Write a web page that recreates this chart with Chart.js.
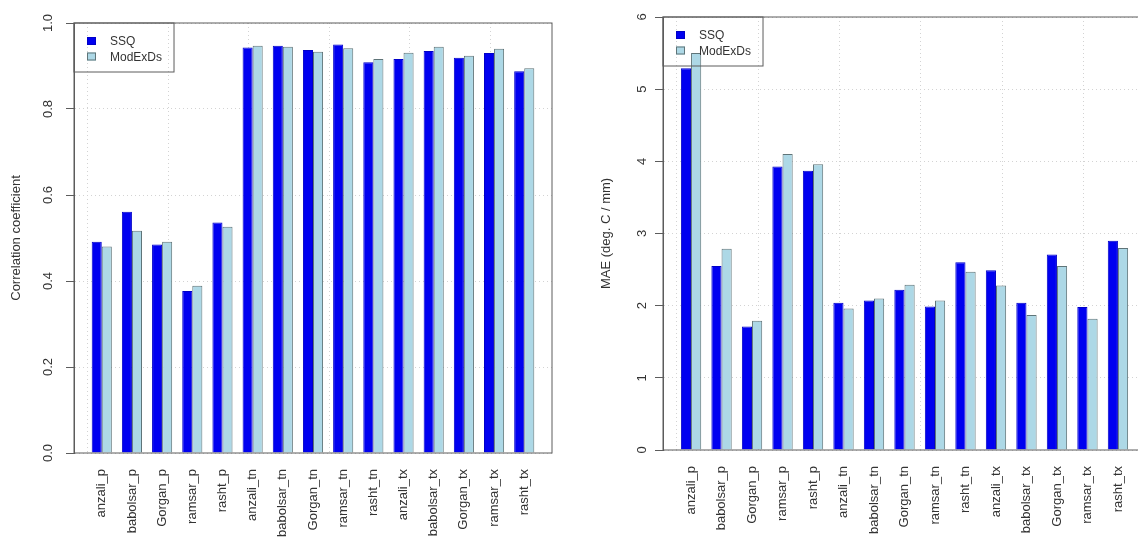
<!DOCTYPE html>
<html>
<head>
<meta charset="utf-8">
<script src="https://cdn.jsdelivr.net/npm/chart.js@4/dist/chart.umd.min.js"></script>
<style>
  html, body { margin: 0; padding: 0; background: #fff; width: 1138px; height: 540px; overflow: hidden; position: relative; }
  canvas { position: absolute; top: 0; }
</style>
</head>
<body>
<canvas id="corrChart" width="570" height="540" style="left:0"></canvas>
<canvas id="maeChart" width="566" height="540" style="left:590px"></canvas>
<script>
const stations = ["anzali_p", "babolsar_p", "Gorgan_p", "ramsar_p", "rasht_p",
  "anzali_tn", "babolsar_tn", "Gorgan_tn", "ramsar_tn", "rasht_tn",
  "anzali_tx", "babolsar_tx", "Gorgan_tx", "ramsar_tx", "rasht_tx"];
const seriesNames = ["SSQ", "ModExDs"];

const corrSSQ = [0.491, 0.561, 0.485, 0.377, 0.536, 0.943, 0.947, 0.937, 0.950, 0.909, 0.916, 0.935, 0.919, 0.930, 0.888];
const corrModExDs = [0.480, 0.517, 0.491, 0.389, 0.526, 0.947, 0.945, 0.933, 0.941, 0.916, 0.931, 0.945, 0.924, 0.940, 0.895];

const maeSSQ = [5.29, 2.55, 1.71, 3.93, 3.87, 2.04, 2.07, 2.22, 1.99, 2.60, 2.49, 2.04, 2.71, 1.98, 2.90];
const maeModExDs = [5.50, 2.79, 1.79, 4.10, 3.96, 1.96, 2.10, 2.29, 2.07, 2.47, 2.28, 1.87, 2.55, 1.82, 2.80];

// R barplot style: bars one unit wide, one unit gap, grid at every 10 units
const gridUnits = [0, 10, 20, 30, 40];
const xMin = -0.92, xMax = 14.92;

const FONT = "'Liberation Sans', Arial, sans-serif";
const darkBlue = "#0000f0";
const lightBlue = "#add8e6";
const frameColor = "#5c5c5c";

// box round the plot + R style legend (transparent background)
const frameAndLegend = {
  id: "frameAndLegend",
  afterDraw(chart) {
    const { ctx, chartArea: a } = chart;
    ctx.save();
    ctx.strokeStyle = frameColor;
    ctx.lineWidth = 1;
    ctx.strokeRect(a.left, a.top, a.right - a.left, a.bottom - a.top);

    ctx.font = "12px " + FONT;
    const names = chart.data.datasets.map(d => d.label);
    const w = Math.max(...names.map(n => ctx.measureText(n).width));
    ctx.strokeRect(a.left, a.top, 36 + w + 12, 49);
    chart.data.datasets.forEach((d, i) => {
      const cy = a.top + 18 + i * 15.5;
      ctx.fillStyle = d.backgroundColor;
      ctx.fillRect(a.left + 13, cy - 4, 9, 8);
      ctx.strokeStyle = d.legendBorder;
      ctx.strokeRect(a.left + 13.5, cy - 3.5, 8, 7);
      ctx.fillStyle = "#333";
      ctx.textBaseline = "middle";
      ctx.fillText(d.label, a.left + 36, cy + 1);
    });
    ctx.restore();
  }
};

function makeChart(id, ssq, mod, cfg) {
  const toPoints = arr => arr.map((v, i) => ({ x: i, y: v }));
  return new Chart(document.getElementById(id), {
    type: "bar",
    data: {
      datasets: [
        { label: seriesNames[0], data: toPoints(ssq), backgroundColor: darkBlue,
          borderColor: "#0000c8", borderWidth: 1, legendBorder: "#0000c8" },
        { label: seriesNames[1], data: toPoints(mod), backgroundColor: lightBlue,
          borderColor: "#5f7478", borderWidth: 1, legendBorder: "#5f7478" }
      ]
    },
    options: {
      responsive: false,
      animation: false,
      devicePixelRatio: 1,
      layout: { padding: { top: cfg.top, right: cfg.padRight, left: 0, bottom: 0 } },
      plugins: { legend: { display: false }, tooltip: { enabled: false } },
      datasets: { bar: { categoryPercentage: 2 / 3, barPercentage: 1 } },
      scales: {
        x: {
          type: "linear",
          position: "bottom",
          min: xMin, max: xMax,
          offset: false,
          afterBuildTicks: s => { s.ticks = stations.map((_, i) => ({ value: i })); },
          afterFit: s => { s.height = cfg.xHeight; },
          grid: { display: false, drawTicks: false, offset: false },
          border: { display: false },
          ticks: {
            autoSkip: false, minRotation: 90, maxRotation: 90, padding: 16,
            color: "#333", font: { family: FONT, size: 13 },
            callback: (v, i) => stations[i]
          }
        },
        xgrid: {
          type: "linear",
          position: "top",
          min: xMin, max: xMax,
          z: 1,
          afterBuildTicks: s => { s.ticks = gridUnits.map(u => ({ value: (u - 2) / 3 })); },
          afterFit: s => { s.height = 0; },
          grid: { color: "#d3d3d3", drawTicks: false },
          border: { display: false, dash: [1, 3] },
          ticks: { display: false }
        },
        y: {
          min: 0, max: cfg.yMax,
          z: 1,
          afterFit: s => { s.width = cfg.yWidth; },
          ticks: {
            stepSize: cfg.yStep, minRotation: 90, maxRotation: 90,
            crossAlign: "center", padding: 9,
            color: "#333", font: { family: FONT, size: 13 },
            callback: v => v.toFixed(cfg.decimals)
          },
          grid: { color: "#d3d3d3", tickColor: frameColor, tickLength: 8, tickBorderDash: [] },
          border: { display: true, color: frameColor, dash: [1, 3] },
          title: {
            display: true, text: cfg.title, color: "#333",
            font: { family: FONT, size: 13 }, padding: { top: 9, bottom: 0 }
          }
        }
      }
    },
    plugins: [frameAndLegend]
  });
}

makeChart("corrChart", corrSSQ, corrModExDs, {
  yMax: 1, yStep: 0.2, decimals: 1, title: "Correlation coefficient",
  top: 23, padRight: 18, yWidth: 74, xHeight: 87
});

makeChart("maeChart", maeSSQ, maeModExDs, {
  yMax: 6, yStep: 1, decimals: 0, title: "MAE (deg. C / mm)",
  top: 17, padRight: 10, yWidth: 73, xHeight: 90
});
</script>
</body>
</html>
